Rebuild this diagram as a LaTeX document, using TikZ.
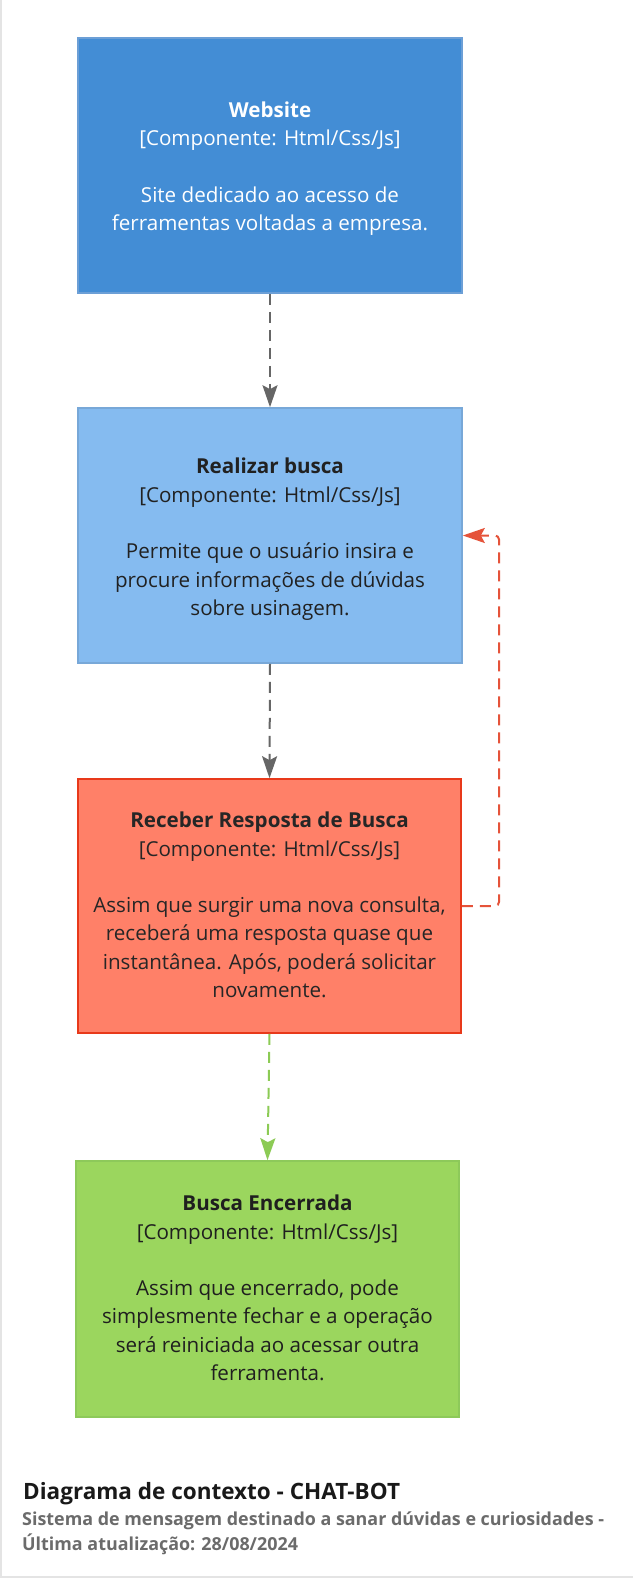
\documentclass[tikz,border=0pt]{standalone}
\usepackage{fontspec}
\setmainfont{Open Sans}
\usetikzlibrary{arrows.meta}
\definecolor{c1fill}{HTML}{438DD5}
\definecolor{c1line}{HTML}{6C9FD6}
\definecolor{c2fill}{HTML}{85BBF0}
\definecolor{c2line}{HTML}{78A8D8}
\definecolor{c3fill}{HTML}{FF8068}
\definecolor{c3line}{HTML}{E8391A}
\definecolor{c4fill}{HTML}{9BD65E}
\definecolor{c4line}{HTML}{8DC95A}
\definecolor{greyarrow}{HTML}{666666}
\definecolor{redarrow}{HTML}{E5533A}
\definecolor{greenarrow}{HTML}{8CCB55}
\definecolor{frameline}{HTML}{E4E4E4}
\definecolor{subgrey}{HTML}{6B6B6B}
\newcommand{\boxtext}[2]{\raisebox{-#1}[\height][\depth]{\begin{tabular}{@{}c@{}}#2\end{tabular}}}
\tikzset{
  compbox/.style={rectangle, line width=1.6pt, minimum width=384pt, minimum height=255pt,
    inner sep=0pt, align=center, font=\fontsize{20.6}{28.3}\selectfont},
  conn/.style={line width=2pt, dash pattern=on 11pt off 7pt,
    -{Stealth[length=22pt,width=15pt,inset=4pt]}},
}
\begin{document}
\begin{tikzpicture}[x=1pt,y=-1pt]
\useasboundingbox (0,0) rectangle (633,1579);
\fill[white] (0,0) rectangle (633,1579);
\draw[frameline, line width=1.5pt] (0.75,0) -- (0.75,1577) -- (633,1577);

\node[compbox, fill=c1fill, draw=c1line, text=white] (b1) at (270,165.5)
  {\boxtext{3pt}{\textbf{Website}\\{[}Componente: Html/Css/Js{]}\\ \\Site dedicado ao acesso de\\ferramentas voltadas a empresa.}};
\node[compbox, fill=c2fill, draw=c2line, text=black!87] (b2) at (270,535.5)
  {\boxtext{3.5pt}{\textbf{Realizar busca}\\{[}Componente: Html/Css/Js{]}\\ \\Permite que o usuário insira e\\procure informações de dúvidas\\sobre usinagem.}};
\node[compbox, fill=c3fill, draw=c3line, text=black!85, minimum width=383pt, minimum height=254pt] (b3) at (269.5,906)
  {\boxtext{1pt}{\textbf{Receber Resposta de Busca}\\{[}Componente: Html/Css/Js{]}\\ \\Assim que surgir uma nova consulta,\\receberá uma resposta quase que\\instantânea. Após, poderá solicitar\\novamente.}};
\node[compbox, fill=c4fill, draw=c4line, text=black!88, minimum width=383pt, minimum height=256pt] (b4) at (267.5,1289)
  {\boxtext{1pt}{\textbf{Busca Encerrada}\\{[}Componente: Html/Css/Js{]}\\ \\Assim que encerrado, pode\\simplesmente fechar e a operação\\será reiniciada ao acessar outra\\ferramenta.}};

\draw[conn, greyarrow] (b1.south) -- (b2.north);
\draw[conn, greyarrow] (b2.south) -- (b3.north);
\draw[conn, greenarrow] (b3.south) -- (b4.north);
\coordinate (rb) at (499,906);
\coordinate (rt) at (499,535.5);
\draw[conn, redarrow, rounded corners=4pt] (b3.east) -- (rb) -- (rt) -- (b2.east);

\node[anchor=base west, inner sep=0pt, text=black!90, font=\fontsize{22.5}{27}\selectfont\bfseries] (title) at (23,1499) {Diagrama de contexto - CHAT-BOT};
\node[anchor=base west, inner sep=0pt, text=subgrey, font=\fontsize{17.9}{25}\selectfont\bfseries] (sub1) at (22,1525.7) {Sistema de mensagem destinado a sanar dúvidas e curiosidades -};
\node[anchor=base west, inner sep=0pt, text=subgrey, font=\fontsize{17.9}{25}\selectfont\bfseries] (sub2) at (22,1550.7) {Última atualização: 28/08/2024};
\end{tikzpicture}
\end{document}
